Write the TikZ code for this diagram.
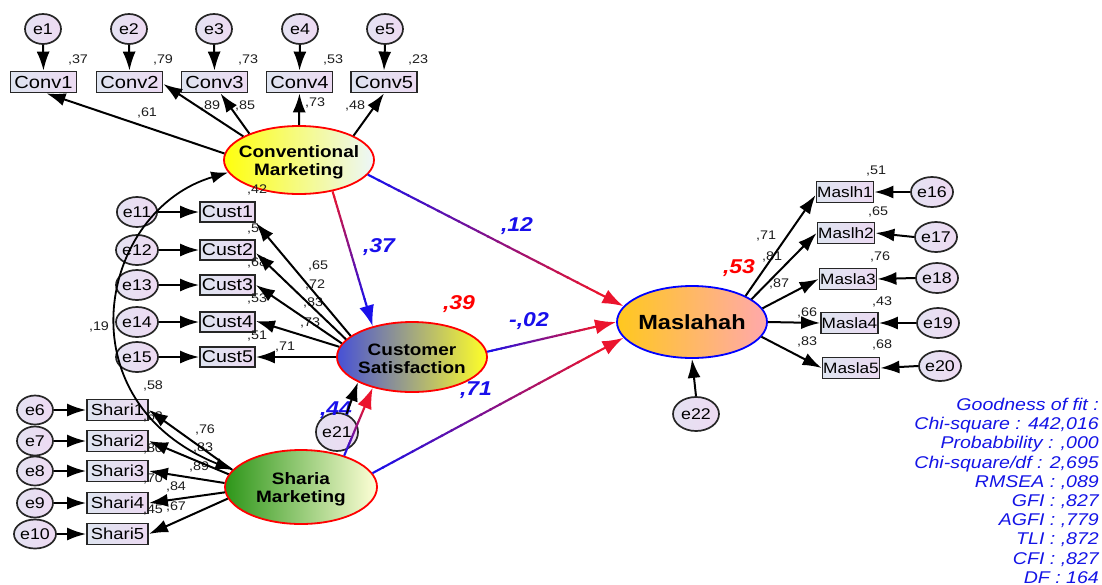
\documentclass[tikz,border=0pt]{standalone}
\usepackage{fontspec}
\setmainfont{Liberation Sans}[FakeStretch=1.15]
\usetikzlibrary{arrows.meta,calc,shapes.geometric}
\definecolor{pblue}{RGB}{25,15,235}
\definecolor{pred}{RGB}{235,20,45}
\definecolor{fitblue}{RGB}{20,20,230}
\definecolor{boxL}{RGB}{222,228,240}
\definecolor{boxR}{RGB}{236,218,242}
\definecolor{errL}{RGB}{228,226,242}
\definecolor{errR}{RGB}{238,218,242}
\definecolor{lbl}{RGB}{30,30,30}
\newcommand\gradarrow[4]{%
  \path #1 coordinate (ga-s) #2 coordinate (ga-e);
  \coordinate (ga-m) at ($(ga-e)!19pt!(ga-s)$);
  \foreach \i in {0,...,23}{%
    \pgfmathsetmacro\pa{\i/24}%
    \pgfmathsetmacro\pb{min((\i+1.2)/24,1)}%
    \pgfmathtruncatemacro\pc{100-\i*100/23}%
    \draw[line width=2.1pt, color=#3!\pc!#4] ($(ga-s)!\pa!(ga-m)$) -- ($(ga-s)!\pb!(ga-m)$);
  }
  \draw[color=#4, line width=2.1pt, -{Latex[length=21pt,width=15pt]}] ($(ga-m)!1pt!(ga-s)$) -- (ga-e);
}
\begin{document}
\begin{tikzpicture}[x=1pt,y=1pt,
  obs/.style={rectangle, draw=black!85, line width=1.8pt, left color=boxL, right color=boxR,
    minimum width=66pt, minimum height=21pt, inner sep=0pt, font=\fontsize{17.5}{17.5}\selectfont},
  err/.style={ellipse, draw=black!85, line width=1.7pt, left color=errL, right color=errR,
    minimum width=36pt, minimum height=30pt, inner sep=0pt, font=\fontsize{15.5}{15.5}\selectfont},
  lat/.style={ellipse, draw=red, line width=1.8pt, minimum width=150pt, minimum height=68pt, inner sep=0pt},
  lattext/.style={align=center, inner sep=0pt, font=\fontsize{16.5}{18}\selectfont\bfseries},
  ld/.style={font=\fontsize{12.5}{12.5}\selectfont, text=lbl, inner sep=0pt},
  pth/.style={font=\fontsize{20}{20}\selectfont\bfseries\itshape, text=pblue, inner sep=0pt},
  arr/.style={draw=black, line width=2pt, -{Latex[length=19pt,width=13pt]}},
]
\useasboundingbox (0,0) rectangle (1102,-584);

% ---------- latent variables
\node[lat, left color=yellow!95!white, middle color={rgb,255:red,236;green,242;blue,222}, right color={rgb,255:red,236;green,246;blue,250}] (cm) at (299,-160) {};
\node[lattext] (cmT) at ([yshift=-2pt]cm.center) {Conventional\\Marketing};
\node[lat, minimum height=70pt, left color={rgb,255:red,70;green,80;blue,215}, middle color={rgb,255:red,150;green,150;blue,130}, right color={rgb,255:red,255;green,255;blue,40}] (cs) at (412,-357) {};
\node[lattext] (csT) at ([yshift=-2pt]cs.center) {Customer\\Satisfaction};
\node[lat, minimum width=152pt, minimum height=74pt, left color={rgb,255:red,45;green,150;blue,25}, middle color={rgb,255:red,215;green,235;blue,140}, right color={rgb,255:red,255;green,255;blue,215}] (sm) at (301,-487) {};
\node[lattext] (smT) at ([yshift=-2pt]sm.center) {Sharia\\Marketing};
\node[lat, draw=blue, minimum height=72pt, left color={rgb,255:red,255;green,200;blue,30}, right color={rgb,255:red,255;green,168;blue,172}] (mas) at (692,-322) {};
\node[lattext, font=\fontsize{20.5}{20.5}\selectfont\bfseries] (masT) at (mas.center) {Maslahah};

% ---------- Conventional marketing indicators
\foreach \n/\x/\xc in {1/43/43.5,2/129/129.5,3/214/214.5,4/300/299.5,5/385/384}{
  \node[err] (e\n) at (\x,-29) {e\n};
  \node[obs] (c\n) at (\xc,-82) {Conv\n};
}
% ---------- Customer satisfaction indicators
\foreach \n/\y in {1/212,2/250,3/285,4/322,5/357}{
  \pgfmathtruncatemacro\en{\n+10}
  \node[err] (e\en) at (137,-\y) {e\en};
  \node[obs, minimum width=55pt, minimum height=20pt, font=\fontsize{17}{17}\selectfont] (u\n) at (227.5,-\y) {Cust\n};
}
% ---------- Sharia marketing indicators
\foreach \n/\y in {1/410,2/441,3/471,4/503,5/534}{
  \pgfmathtruncatemacro\en{\n+5}
  \node[err, minimum height=29pt] (e\en) at (35,-\y) {e\en};
  \node[obs, minimum width=61pt, font=\fontsize{16}{16}\selectfont] (s\n) at (117.5,-\y) {Shari\n};
}
% ---------- Maslahah indicators
\node[obs, minimum width=57pt, font=\fontsize{15}{15}\selectfont] (m1) at (845,-192) {Maslh1};
\node[obs, minimum width=57pt, font=\fontsize{15}{15}\selectfont] (m2) at (846,-233) {Maslh2};
\node[obs, minimum width=57pt, font=\fontsize{15}{15}\selectfont] (m3) at (848,-279) {Masla3};
\node[obs, minimum width=57pt, font=\fontsize{15}{15}\selectfont] (m4) at (849.5,-323) {Masla4};
\node[obs, minimum width=57pt, font=\fontsize{15}{15}\selectfont] (m5) at (851,-368) {Masla5};
\node[err] (e16) at (932,-192) {e16};
\node[err] (e17) at (936,-237) {e17};
\node[err] (e18) at (937,-278) {e18};
\node[err] (e19) at (938,-323) {e19};
\node[err] (e20) at (940,-366) {e20};
\node[err, minimum width=42pt, minimum height=38pt] (e21) at (337,-432) {e21};
\node[err, minimum width=46pt, minimum height=34pt] (e22) at (696,-414) {e22};

% ---------- small labels
\foreach \t/\x/\y in {{,37}/78/60,{,79}/163/60,{,73}/248/60,{,53}/333/60,{,23}/418/60,
  {,61}/147/113,{,89}/210/106,{,85}/245/106,{,73}/315/103,{,48}/355/106,
  {,42}/257/190,{,5}/253/229,{,68}/257/263,{,53}/257/299,{,51}/257/336,
  {,65}/318/266,{,72}/315/285,{,83}/313/303,{,73}/310/323,{,71}/285/347,
  {,19}/99/327,
  {,58}/153/386,{,63}/153/417,{,80}/153/449,{,70}/153/479,{,45}/153/510,
  {,76}/205/430,{,83}/203/448,{,89}/199/467,{,84}/176/487,{,67}/176/507,
  {,51}/876/171,{,65}/878/212,{,76}/880/257,{,43}/882/302,{,68}/882/345,
  {,71}/766/236,{,81}/772/257,{,87}/779/284,{,66}/807/313,{,83}/807/342}{
  \node[ld] at (\x,-\y) {\t};
}
\node[pth] (l37) at (379,-247) {,37};
\node[pth] (l12) at (517,-226) {,12};
\node[pth, text=red] (l39) at (459,-304) {,39};
\node[pth] (l02) at (529,-321) {-,02};
\node[pth] (l71) at (476,-390) {,71};
\node[pth] (l44) at (336,-410) {,44};
\node[pth, text=red] (l53) at (739,-268) {,53};

% ---------- error arrows
\foreach \n in {1,...,5}{ \draw[arr] (e\n.south) -- (c\n.north); }
\foreach \n in {1,...,5}{ \pgfmathtruncatemacro\en{\n+10} \draw[arr] (e\en.east) -- (u\n.west); }
\foreach \n in {1,...,5}{ \pgfmathtruncatemacro\en{\n+5} \draw[arr] (e\en.east) -- (s\n.west); }
\foreach \n in {1,...,5}{ \pgfmathtruncatemacro\en{\n+15} \draw[arr] (e\en.west) -- (m\n.east); }
\draw[arr] (e22.north) -- (mas.south);
\draw[arr] (e21.62) -- (cs.205);

% ---------- loadings
\draw[arr] (cm.175) -- ($(c1.south)+(3,0)$);
\draw[arr] (cm.157) -- ($(c2.east)+(0,-2)$);
\draw[arr] (cm.152) -- ($(c3.south)+(6,0)$);
\draw[arr] (cm.90) -- (c4.south);
\draw[arr] (cm.24) -- (c5.south);

\draw[arr] (cs.161) -- (u1.south east);
\draw[arr] (cs.165) -- ($(u2.east)+(0,-3)$);
\draw[arr] (cs.169) -- (u3.east);
\draw[arr] (cs.172) -- ($(u4.east)+(0,1)$);
\draw[arr] (cs.180) -- (u5.east);

\draw[arr] (sm.166) -- (s1.east);
\draw[arr] (sm.170) -- (s2.east);
\draw[arr] (sm.177) -- (s3.east);
\draw[arr] (sm.184) -- (s4.east);
\draw[arr] (sm.189) -- (s5.east);

\draw[arr] (mas.26) -- ($(m1.west)+(0,-3)$);
\draw[arr] (mas.21) -- (m2.west);
\draw[arr] (mas.11) -- (m3.west);
\draw[arr] (mas.0) -- (m4.west);
\draw[arr] (mas.-12) -- (m5.west);

% ---------- covariance
\draw[line width=1.8pt, {Latex[length=17pt,width=12pt]}-{Latex[length=17pt,width=12pt]}]
  (cm.190) .. controls (100,-210) and (60,-400) .. (sm.166);

% ---------- structural paths
\gradarrow{(cm.-43)}{(cs.142)}{pred}{pblue}
\gradarrow{(cm.-12)}{(mas.167)}{pblue}{pred}
\gradarrow{(cs.4)}{(mas.180)}{pblue}{pred}
\gradarrow{(sm.11)}{(mas.193)}{pblue}{pred}
\gradarrow{(sm.36)}{(cs.218)}{pblue}{pred}

% ---------- fit indices
\node[anchor=north east, align=right, inner sep=0pt, text=fitblue,
  font=\fontsize{17}{19.2}\selectfont\itshape] (fit) at (1099,-398)
  {Goodness of fit :\\Chi-square : 442,016\\Probabbility : ,000\\Chi-square/df : 2,695\\RMSEA : ,089\\GFI : ,827\\AGFI : ,779\\TLI : ,872\\CFI : ,827\\DF : 164};
\end{tikzpicture}
\end{document}
